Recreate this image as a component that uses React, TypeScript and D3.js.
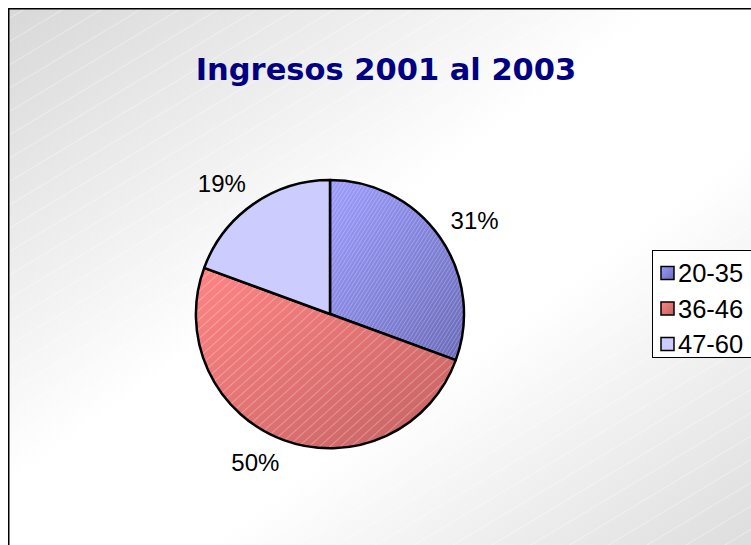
import React from 'react'
import * as d3 from 'd3'

const title = 'Ingresos 2001 al 2003'
const categories = ['20-35', '36-46', '47-60']
const values = [30.6, 50.0, 19.4]
const topColors = ['#9c9cff', '#ff8484', '#ccccff']
const bottomColors = ['#6a6ab8', '#c46262', '#ccccff']

const width = 751
const height = 545
const cx = 330
const cy = 314
const radius = 134

const App = () => {
  const total = d3.sum(values)
  const pct = d3.format('.0%')
  const pie = d3
    .pie<number>()
    .sort(null)
    .value((d) => d)
  const arcs = pie(values)
  const arc = d3.arc<d3.PieArcDatum<number>>().innerRadius(0).outerRadius(radius)
  const labelArc = d3
    .arc<d3.PieArcDatum<number>>()
    .innerRadius(radius + 13)
    .outerRadius(radius + 13)

  // legend rows
  const legendY = d3
    .scalePoint<string>()
    .domain(categories)
    .range([273, 344])

  return (
    <svg
      width={width}
      height={height}
      style={{ position: 'absolute', left: 0, top: 0, overflow: 'hidden' }}
    >
      <defs>
        <linearGradient id="bg" x1="0" y1="0" x2="1" y2="1">
          <stop offset="0" stopColor="#d8d8d8" />
          <stop offset="0.42" stopColor="#ffffff" />
          <stop offset="0.6" stopColor="#ffffff" />
          <stop offset="1" stopColor="#d8d8d8" />
        </linearGradient>
        <pattern
          id="bgStripes"
          patternUnits="userSpaceOnUse"
          width="40"
          height="20"
          patternTransform="rotate(-31)"
        >
          <line x1="0" y1="0.5" x2="40" y2="0.5" stroke="#ffffff" strokeOpacity="0.35" strokeWidth="1" />
        </pattern>
        {categories.map((c, i) => (
          <linearGradient key={c} id={`g${i}`} x1="0" y1="0" x2="1" y2="1">
            <stop offset="0" stopColor={topColors[i]} />
            <stop offset="1" stopColor={bottomColors[i]} />
          </linearGradient>
        ))}
        <pattern
          id="h0"
          patternUnits="userSpaceOnUse"
          width="10"
          height="3.2"
          patternTransform="rotate(-58)"
        >
          <line x1="0" y1="0.5" x2="10" y2="0.5" stroke="#ffffff" strokeOpacity="0.3" strokeWidth="0.8" />
        </pattern>
        <pattern
          id="h1"
          patternUnits="userSpaceOnUse"
          width="10"
          height="7"
          patternTransform="rotate(-42)"
        >
          <line x1="0" y1="0.5" x2="10" y2="0.5" stroke="#ffffff" strokeOpacity="0.35" strokeWidth="0.8" />
        </pattern>
      </defs>

      <rect x={8} y={8} width={780} height={570} fill="url(#bg)" />
      <rect x={8} y={8} width={780} height={570} fill="url(#bgStripes)" />
      <rect x={8.75} y={8.75} width={780} height={570} fill="none" stroke="#000" strokeWidth={1.5} />

      <text
        x={386}
        y={80}
        textAnchor="middle"
        fontFamily="'DejaVu Sans', Verdana, sans-serif"
        fontWeight="bold"
        fontSize={30.5}
        fill="#000080"
      >
        {title}
      </text>

      <g transform={`translate(${cx},${cy})`}>
        {arcs.map((a, i) => (
          <g key={categories[i]}>
            <path d={arc(a) || ''} fill={`url(#g${i})`} />
            {i < 2 && <path d={arc(a) || ''} fill={`url(#h${i})`} />}
            <path d={arc(a) || ''} fill="none" stroke="#000" strokeWidth={2.5} strokeLinejoin="round" />
          </g>
        ))}
        {arcs.map((a, i) => {
          const [lx, ly] = labelArc.centroid(a)
          const mid = (a.startAngle + a.endAngle) / 2
          const anchor = Math.sin(mid) >= 0 ? 'start' : 'end'
          const upper = Math.cos(mid) > 0
          return (
            <text
              key={`l${i}`}
              x={lx}
              y={upper ? ly - 1 : ly + 19}
              textAnchor={anchor}
              fontFamily="'Liberation Sans', Arial, sans-serif"
              fontSize={24}
              fill="#000"
            >
              {pct(values[i] / total)}
            </text>
          )
        })}
      </g>

      <rect x={652.5} y={250.5} width={120} height={107} fill="#ffffff" stroke="#000" strokeWidth={1} />
      {categories.map((c, i) => (
        <g key={c} transform={`translate(0,${legendY(c)})`}>
          <rect x={661} y={-6.5} width={13} height={13} fill={`url(#g${i})`} stroke="#000" strokeWidth={1.5} />
          <text
            x={678}
            y={0}
            dy="0.36em"
            fontFamily="'Liberation Sans', Arial, sans-serif"
            fontSize={25.5}
            fill="#000"
          >
            {c}
          </text>
        </g>
      ))}
    </svg>
  )
}

export default App
